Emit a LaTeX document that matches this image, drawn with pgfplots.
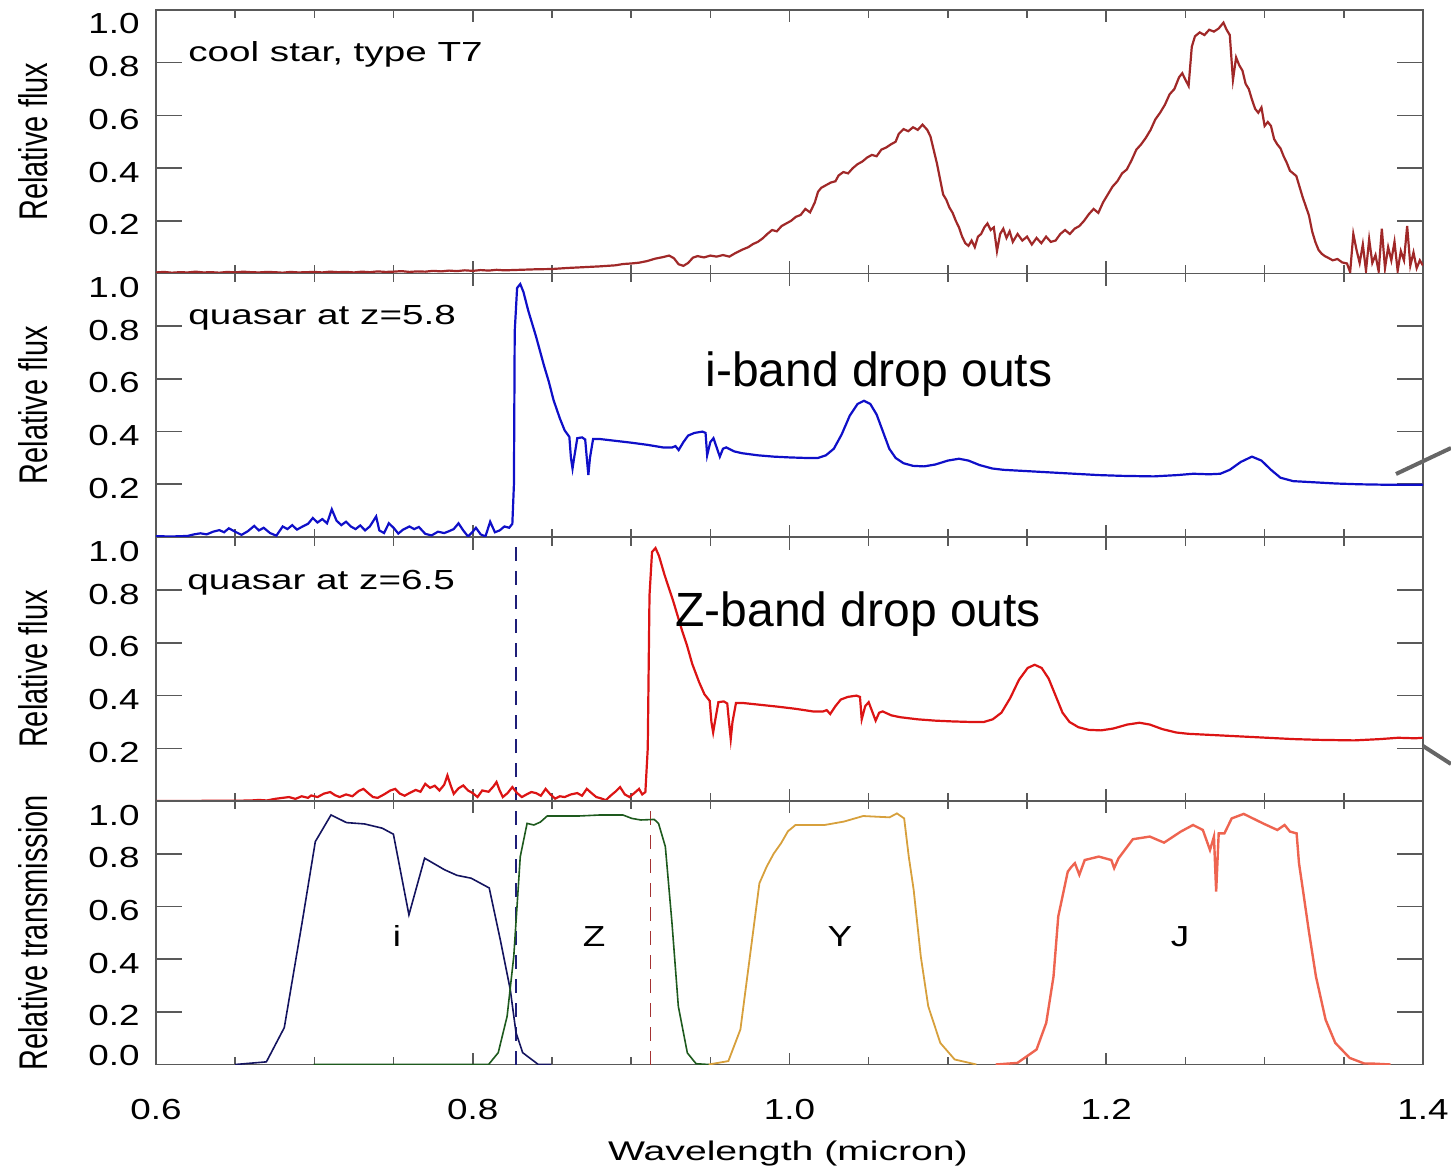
\documentclass[border=0pt]{standalone}
\usepackage{pgfplots}
\pgfplotsset{compat=1.18}
\usepackage{fontspec}
\setmainfont{Liberation Sans}
\usepackage{graphicx}
\definecolor{starc}{RGB}{160,40,40}
\definecolor{blueq}{RGB}{15,15,200}
\definecolor{redq}{RGB}{220,20,20}
\definecolor{ic}{RGB}{20,20,95}
\definecolor{zc}{RGB}{30,90,30}
\definecolor{yc}{RGB}{215,160,60}
\definecolor{jc}{RGB}{238,100,80}
\definecolor{dashn}{RGB}{30,30,120}
\definecolor{dashr}{RGB}{165,50,50}
\newcommand\tl[1]{\scalebox{1.27}[1]{#1}}
\newcommand\tf{\fontsize{14.5}{16}\selectfont}
\pgfplotsset{
  panel/.style={
    scale only axis, width=633.5pt, height=131.75pt,
    xmin=0.6, xmax=1.4, ymin=0, ymax=1,
    axis line style={draw=black!65, line width=0.8pt},
    tick style={draw=black!65, line width=0.8pt},
    tick align=inside,
    xtick={0.6,0.8,1.0,1.2,1.4}, minor x tick num=3,
    xtick style={/pgfplots/major tick length=6pt, /pgfplots/minor tick length=4pt},
    ytick={0.2,0.4,0.6,0.8}, minor y tick num=0,
    ytick style={/pgfplots/major tick length=13pt},
    yticklabels={\tl{0.2},\tl{0.4},\tl{0.6},\tl{0.8}},
    xticklabels={},
    xtick pos=both, ytick pos=both,
    yticklabel pos=left, xticklabel pos=bottom,
    ticklabel style={font=\tf},
    yticklabel style={anchor=east, inner sep=0pt, xshift=-8pt, yshift=-2pt},
    xticklabel style={anchor=base, inner sep=0pt, yshift=-27.5pt},
    extra y ticks={0.962}, extra y tick labels={\tl{1.0}},
    extra y tick style={ytick style={/pgfplots/major tick length=0pt}},
    clip=true,
  }
}
\begin{document}
\begin{tikzpicture}
\useasboundingbox (0,0) rectangle (725.5pt,587pt);
% ---------------- panel 1: cool star
\begin{axis}[panel, at={(78pt,450.25pt)}, anchor=south west]
\addplot[starc, line width=1.1pt] coordinates {
(0.600,0.004)(0.605,0.006)(0.610,0.003)(0.615,0.005)(0.620,0.004)(0.625,0.007)(0.630,0.004)(0.635,0.005)
(0.640,0.003)(0.645,0.006)(0.650,0.004)(0.655,0.007)(0.660,0.005)(0.665,0.004)(0.670,0.006)(0.675,0.005)
(0.680,0.003)(0.685,0.006)(0.690,0.004)(0.695,0.005)(0.700,0.006)(0.705,0.004)(0.710,0.007)(0.715,0.005)
(0.720,0.006)(0.725,0.004)(0.730,0.007)(0.735,0.005)(0.740,0.008)(0.745,0.006)(0.750,0.007)(0.755,0.009)
(0.760,0.006)(0.765,0.008)(0.770,0.007)(0.775,0.010)(0.780,0.008)(0.785,0.011)(0.790,0.009)(0.795,0.012)
(0.800,0.010)(0.805,0.013)(0.810,0.011)(0.815,0.014)(0.820,0.012)(0.830,0.014)(0.840,0.016)(0.850,0.017)
(0.860,0.021)(0.870,0.024)(0.880,0.027)(0.890,0.031)(0.895,0.036)(0.900,0.038)(0.905,0.041)(0.910,0.047)
(0.915,0.056)(0.920,0.062)(0.924,0.068)(0.927,0.058)(0.930,0.035)(0.933,0.029)(0.936,0.040)(0.939,0.060)
(0.942,0.066)(0.946,0.061)(0.950,0.068)(0.954,0.064)(0.958,0.070)(0.962,0.064)(0.966,0.078)(0.970,0.090)
(0.974,0.100)(0.977,0.112)(0.980,0.120)(0.983,0.133)(0.986,0.150)(0.989,0.165)(0.992,0.160)(0.995,0.180)
(0.998,0.190)(1.001,0.200)(1.004,0.215)(1.007,0.222)(1.010,0.245)(1.013,0.232)(1.016,0.270)(1.018,0.310)
(1.020,0.325)(1.023,0.335)(1.026,0.345)(1.029,0.350)(1.031,0.372)(1.034,0.385)(1.037,0.380)(1.040,0.400)
(1.043,0.415)(1.046,0.425)(1.049,0.440)(1.052,0.450)(1.055,0.445)(1.058,0.470)(1.061,0.478)(1.064,0.490)
(1.067,0.500)(1.069,0.530)(1.072,0.548)(1.075,0.540)(1.078,0.555)(1.081,0.545)(1.084,0.565)(1.087,0.545)
(1.089,0.520)(1.091,0.470)(1.093,0.420)(1.095,0.360)(1.097,0.300)(1.099,0.280)(1.101,0.250)(1.103,0.230)
(1.105,0.200)(1.107,0.175)(1.109,0.140)(1.111,0.115)(1.113,0.105)(1.115,0.125)(1.117,0.100)(1.119,0.140)
(1.121,0.150)(1.123,0.175)(1.125,0.190)(1.127,0.165)(1.129,0.175)(1.131,0.085)(1.133,0.150)(1.135,0.170)
(1.137,0.135)(1.139,0.160)(1.141,0.120)(1.144,0.150)(1.147,0.125)(1.150,0.140)(1.153,0.110)(1.156,0.135)
(1.159,0.115)(1.162,0.140)(1.165,0.120)(1.168,0.125)(1.171,0.150)(1.174,0.165)(1.177,0.150)(1.180,0.170)
(1.183,0.180)(1.186,0.200)(1.189,0.225)(1.192,0.245)(1.195,0.230)(1.198,0.270)(1.201,0.300)(1.204,0.330)
(1.207,0.350)(1.210,0.380)(1.213,0.395)(1.216,0.430)(1.219,0.470)(1.222,0.490)(1.225,0.515)(1.228,0.545)
(1.231,0.585)(1.234,0.610)(1.237,0.640)(1.240,0.680)(1.243,0.700)(1.246,0.745)(1.248,0.760)(1.250,0.735)
(1.252,0.712)(1.254,0.860)(1.256,0.900)(1.259,0.915)(1.262,0.905)(1.265,0.925)(1.268,0.918)(1.271,0.930)
(1.274,0.952)(1.276,0.925)(1.278,0.905)(1.280,0.735)(1.282,0.820)(1.284,0.790)(1.286,0.770)(1.288,0.720)
(1.290,0.700)(1.292,0.660)(1.294,0.625)(1.296,0.610)(1.298,0.630)(1.300,0.560)(1.302,0.575)(1.304,0.560)
(1.306,0.510)(1.308,0.490)(1.310,0.475)(1.312,0.445)(1.314,0.420)(1.316,0.390)(1.318,0.380)(1.320,0.370)
(1.322,0.330)(1.324,0.290)(1.326,0.255)(1.328,0.220)(1.330,0.160)(1.332,0.120)(1.334,0.090)(1.336,0.075)
(1.338,0.066)(1.340,0.060)(1.343,0.050)(1.346,0.055)(1.349,0.042)(1.352,0.038)(1.354,0.005)(1.356,0.150)
(1.358,0.090)(1.360,0.040)(1.362,0.110)(1.364,0.010)(1.366,0.130)(1.368,0.040)(1.370,0.070)(1.372,0.008)
(1.374,0.170)(1.376,0.020)(1.378,0.100)(1.380,0.050)(1.382,0.120)(1.384,0.010)(1.386,0.085)(1.388,0.050)
(1.390,0.180)(1.392,0.030)(1.394,0.080)(1.396,0.020)(1.398,0.050)(1.400,0.030)
};
\end{axis}
% ---------------- panel 2: quasar z=5.8
\begin{axis}[panel, at={(78pt,318.5pt)}, anchor=south west]
\addplot[blueq, line width=1.1pt] coordinates {
(0.600,0.003)(0.610,0.002)(0.620,0.004)(0.624,0.010)(0.628,0.014)(0.632,0.010)(0.636,0.020)(0.640,0.026)
(0.643,0.018)(0.646,0.033)(0.650,0.020)(0.654,0.008)(0.658,0.022)(0.662,0.042)(0.665,0.025)(0.668,0.035)
(0.672,0.015)(0.676,0.005)(0.680,0.040)(0.683,0.030)(0.686,0.045)(0.689,0.028)(0.692,0.038)(0.696,0.050)
(0.699,0.072)(0.702,0.055)(0.705,0.068)(0.708,0.052)(0.711,0.105)(0.714,0.062)(0.717,0.045)(0.720,0.058)
(0.723,0.040)(0.726,0.030)(0.729,0.044)(0.732,0.025)(0.735,0.040)(0.739,0.078)(0.741,0.025)(0.744,0.015)
(0.747,0.052)(0.750,0.035)(0.753,0.013)(0.756,0.028)(0.760,0.040)(0.763,0.030)(0.766,0.038)(0.770,0.012)
(0.774,0.006)(0.778,0.020)(0.782,0.015)(0.785,0.022)(0.788,0.030)(0.791,0.052)(0.794,0.025)(0.797,0.002)
(0.800,0.020)(0.802,0.035)(0.805,0.010)(0.808,0.002)(0.811,0.058)(0.814,0.018)(0.817,0.025)(0.820,0.040)
(0.823,0.035)(0.825,0.050)(0.826,0.200)(0.8265,0.780)(0.828,0.945)(0.830,0.960)(0.832,0.930)(0.835,0.860)
(0.840,0.760)(0.845,0.650)(0.848,0.590)(0.851,0.520)(0.855,0.450)(0.858,0.405)(0.861,0.380)(0.862,0.300)
(0.863,0.260)(0.864,0.300)(0.866,0.375)(0.869,0.378)(0.871,0.370)(0.872,0.300)(0.873,0.235)(0.874,0.300)
(0.876,0.372)(0.880,0.372)(0.890,0.365)(0.900,0.358)(0.910,0.350)(0.920,0.340)(0.926,0.340)(0.928,0.345)
(0.930,0.330)(0.933,0.360)(0.936,0.385)(0.940,0.395)(0.945,0.400)(0.947,0.395)(0.948,0.310)(0.950,0.360)
(0.952,0.375)(0.954,0.340)(0.956,0.305)(0.958,0.335)(0.960,0.340)(0.965,0.325)(0.970,0.318)(0.980,0.310)
(0.990,0.305)(1.000,0.302)(1.010,0.300)(1.018,0.300)(1.023,0.310)(1.028,0.335)(1.033,0.390)(1.038,0.460)
(1.043,0.505)(1.047,0.517)(1.051,0.505)(1.055,0.465)(1.059,0.400)(1.063,0.335)(1.067,0.300)(1.072,0.280)
(1.078,0.270)(1.085,0.268)(1.092,0.275)(1.100,0.290)(1.107,0.297)(1.113,0.290)(1.120,0.273)(1.128,0.260)
(1.135,0.255)(1.150,0.250)(1.165,0.245)(1.180,0.240)(1.195,0.235)(1.210,0.232)(1.230,0.230)(1.245,0.235)
(1.255,0.240)(1.265,0.238)(1.272,0.240)(1.278,0.255)(1.285,0.285)(1.292,0.305)(1.298,0.290)(1.304,0.255)
(1.310,0.225)(1.318,0.212)(1.330,0.208)(1.345,0.203)(1.360,0.200)(1.380,0.198)(1.400,0.198)
};
\end{axis}
% ---------------- panel 3: quasar z=6.5
\begin{axis}[panel, at={(78pt,186.5pt)}, anchor=south west]
\addplot[dashn, line width=0.6pt, dash pattern=on 7pt off 5pt] coordinates {(0.8273,0) (0.8273,1)};
\addplot[redq, line width=1.1pt] coordinates {
(0.600,0.000)(0.650,0.001)(0.660,0.002)(0.665,0.004)(0.670,0.002)(0.675,0.008)(0.680,0.012)(0.684,0.015)
(0.688,0.008)(0.692,0.018)(0.696,0.012)(0.698,0.021)(0.702,0.015)(0.706,0.028)(0.710,0.034)(0.713,0.022)
(0.716,0.015)(0.720,0.025)(0.724,0.018)(0.728,0.038)(0.731,0.046)(0.734,0.030)(0.737,0.015)(0.740,0.012)
(0.744,0.025)(0.748,0.040)(0.751,0.046)(0.754,0.028)(0.757,0.020)(0.760,0.030)(0.764,0.042)(0.767,0.035)
(0.770,0.065)(0.773,0.050)(0.776,0.058)(0.779,0.040)(0.782,0.062)(0.784,0.097)(0.786,0.060)(0.788,0.027)
(0.791,0.048)(0.794,0.059)(0.797,0.040)(0.800,0.030)(0.803,0.015)(0.806,0.040)(0.810,0.035)(0.813,0.055)
(0.815,0.072)(0.817,0.040)(0.819,0.015)(0.822,0.030)(0.825,0.053)(0.828,0.030)(0.831,0.015)(0.834,0.025)
(0.837,0.034)(0.840,0.030)(0.843,0.020)(0.846,0.046)(0.849,0.025)(0.852,0.009)(0.855,0.018)(0.858,0.015)
(0.862,0.025)(0.866,0.030)(0.869,0.020)(0.872,0.046)(0.875,0.030)(0.878,0.015)(0.881,0.010)(0.884,0.003)
(0.887,0.020)(0.890,0.035)(0.893,0.053)(0.896,0.025)(0.899,0.015)(0.902,0.030)(0.905,0.046)(0.907,0.025)
(0.909,0.034)(0.9105,0.200)(0.9116,0.780)(0.9132,0.945)(0.9154,0.960)(0.9176,0.930)(0.9210,0.860)
(0.9265,0.760)(0.9320,0.650)(0.9353,0.590)(0.9386,0.520)(0.9430,0.450)(0.9463,0.405)(0.9496,0.380)
(0.9507,0.300)(0.9518,0.260)(0.9529,0.300)(0.9551,0.375)(0.9585,0.378)(0.9607,0.370)(0.9618,0.300)
(0.9629,0.235)(0.9640,0.300)(0.9662,0.372)(0.9706,0.372)(0.9816,0.365)(0.9926,0.358)(1.0037,0.350)
(1.0147,0.340)(1.0213,0.340)(1.0235,0.345)(1.0257,0.330)(1.0290,0.360)(1.0324,0.385)(1.0368,0.395)
(1.0423,0.400)(1.0445,0.395)(1.0456,0.310)(1.0478,0.360)(1.0500,0.375)(1.0522,0.340)(1.0544,0.305)
(1.0566,0.335)(1.0588,0.340)(1.0643,0.325)(1.0699,0.318)(1.0809,0.310)(1.0919,0.305)(1.1029,0.302)
(1.1140,0.300)(1.1228,0.300)(1.1283,0.310)(1.1338,0.335)(1.1393,0.390)(1.1449,0.460)(1.1504,0.505)
(1.1548,0.517)(1.1592,0.505)(1.1636,0.465)(1.1680,0.400)(1.1724,0.335)(1.1768,0.300)(1.1824,0.280)
(1.1890,0.270)(1.1967,0.268)(1.2044,0.275)(1.2132,0.290)(1.2210,0.297)(1.2276,0.290)(1.2353,0.273)
(1.2441,0.260)(1.2518,0.255)(1.2684,0.250)(1.2849,0.245)(1.3015,0.240)(1.3180,0.235)(1.3346,0.232)
(1.3566,0.230)(1.3731,0.235)(1.3842,0.240)(1.3952,0.238)(1.4000,0.240)
};
\end{axis}
% ---------------- panel 4: filters
\begin{axis}[panel, at={(78pt,54.75pt)}, anchor=south west,
  xticklabels={\tl{0.6},\tl{0.8},\tl{1.0},\tl{1.2},\tl{1.4}},
  extra y ticks={0.051,0.962}, extra y tick labels={\tl{0.0},\tl{1.0}}]
\addplot[dashn, line width=0.6pt, dash pattern=on 7pt off 5pt] coordinates {(0.8273,0) (0.8273,1)};
\addplot[dashr, line width=0.7pt, dash pattern=on 7pt off 5pt] coordinates {(0.9122,0) (0.9122,1)};
\addplot[ic, line width=0.8pt] coordinates {
(0.650,0)(0.6697,0.010)(0.681,0.140)(0.6922,0.537)(0.7006,0.846)(0.7105,0.947)(0.7203,0.918)(0.7316,0.913)
(0.7428,0.897)(0.7499,0.874)(0.7597,0.568)(0.7696,0.783)(0.7822,0.739)(0.790,0.718)(0.799,0.707)(0.8104,0.670)
(0.8174,0.473)(0.8237,0.284)(0.8273,0.121)(0.8315,0.045)(0.8414,0)(0.8497,0)
};
\addplot[zc, line width=0.8pt] coordinates {
(0.6996,0)(0.810,0)(0.8161,0.045)(0.8217,0.183)(0.8259,0.410)(0.830,0.789)(0.8343,0.915)(0.8386,0.909)
(0.8427,0.920)(0.847,0.943)(0.8667,0.943)(0.8806,0.947)(0.8948,0.947)(0.9004,0.934)(0.9061,0.928)
(0.9146,0.930)(0.9173,0.915)(0.9216,0.827)(0.9258,0.537)(0.9298,0.221)(0.9355,0.044)(0.941,0.003)(0.949,0)
};
\addplot[yc, line width=0.9pt] coordinates {
(0.949,0)(0.9614,0.013)(0.969,0.133)(0.975,0.410)(0.981,0.688)(0.9856,0.751)(0.990,0.800)(0.9947,0.840)(0.999,0.885)(1.0038,0.909)
(1.0222,0.909)(1.0344,0.922)(1.0465,0.943)(1.0632,0.938)(1.0678,0.953)(1.0724,0.934)(1.0753,0.789)
(1.0784,0.663)(1.0829,0.410)(1.0876,0.221)(1.0952,0.082)(1.1043,0.019)(1.118,0)
};
\addplot[jc, line width=1.2pt] coordinates {
(1.1302,0)(1.1439,0.006)(1.156,0.057)(1.1621,0.158)(1.1667,0.334)(1.1697,0.562)(1.1757,0.732)(1.1780,0.750)
(1.1802,0.764)(1.1830,0.720)(1.1864,0.776)(1.1953,0.789)(1.2032,0.776)(1.2050,0.745)(1.2077,0.782)
(1.2168,0.855)(1.2275,0.865)(1.2365,0.842)(1.2471,0.884)(1.2548,0.909)(1.2610,0.890)(1.2655,0.814)
(1.2680,0.865)(1.2694,0.656)(1.2710,0.877)(1.2746,0.877)(1.2792,0.934)(1.2868,0.951)(1.2990,0.915)
(1.3080,0.890)(1.3126,0.909)(1.3160,0.884)(1.3202,0.877)(1.3217,0.764)(1.3248,0.637)(1.3278,0.511)
(1.3324,0.334)(1.3385,0.170)(1.3446,0.082)(1.3537,0.025)(1.3628,0.004)(1.3700,0.003)(1.3795,0)
};
\end{axis}
% ---------------- text
\node[anchor=base west, inner sep=0pt] at (94pt,556pt) {\scalebox{1.4}[1]{\fontsize{13.8}{15}\selectfont cool star, type T7}};
\node[anchor=base west, inner sep=0pt] at (94pt,424.5pt) {\scalebox{1.4}[1]{\fontsize{13.8}{15}\selectfont quasar at z=5.8}};
\node[anchor=base west, inner sep=0pt] at (93.5pt,292pt) {\scalebox{1.4}[1]{\fontsize{13.8}{15}\selectfont quasar at z=6.5}};
\node[anchor=base west, inner sep=0pt] at (352.5pt,393.6pt) {\fontsize{24}{28}\selectfont i-band drop outs};
\node[anchor=base west, inner sep=0pt] at (337.5pt,273.6pt) {\fontsize{24}{28}\selectfont Z-band drop outs};
\node[anchor=base, inner sep=0pt] at (198.5pt,114pt) {\tf\tl{i}};
\node[anchor=base, inner sep=0pt] at (297pt,114pt) {\tf\tl{Z}};
\node[anchor=base, inner sep=0pt] at (420pt,114pt) {\tf\tl{Y}};
\node[anchor=base, inner sep=0pt] at (590pt,114pt) {\tf\tl{J}};
\node[anchor=base, inner sep=0pt] at (394pt,7pt) {\scalebox{1.45}[1]{\fontsize{13.5}{15}\selectfont Wavelength (micron)}};
\foreach \yc/\txt in {516.1/Relative flux, 384.4/Relative flux, 252.5/Relative flux, 120.6/Relative transmission}{
  \node[rotate=90, anchor=base, inner sep=0pt] at (23.5pt,\yc pt) {\scalebox{1}[1.38]{\tf \txt}};
}
\draw[black!60, line width=2pt] (698pt,350pt) -- (725.5pt,363pt);
\draw[black!60, line width=2pt] (711.5pt,214pt) -- (725.5pt,205pt);
\end{tikzpicture}
\end{document}
